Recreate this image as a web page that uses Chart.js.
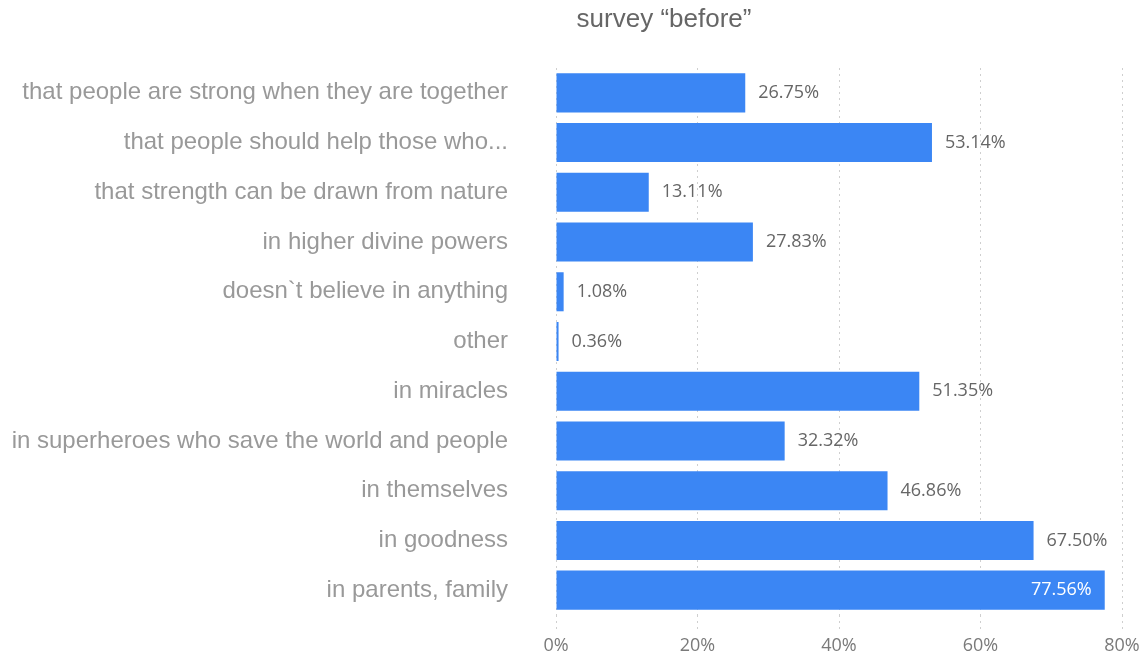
<!DOCTYPE html>
<html>
<head>
<meta charset="utf-8">
<script src="https://cdn.jsdelivr.net/npm/chart.js@4"></script>
<style>
  html, body { margin: 0; padding: 0; background: #fff; }
  #wrap { width: 1144px; height: 657px; position: relative; }
</style>
</head>
<body>
<div id="wrap"><canvas id="c"></canvas></div>
<script>
// Survey answers and the share of respondents for each
const categories = [
  'that people are strong when they are together',
  'that people should help those who...',
  'that strength can be drawn from nature',
  'in higher divine powers',
  'doesn`t believe in anything',
  'other',
  'in miracles',
  'in superheroes who save the world and people',
  'in themselves',
  'in goodness',
  'in parents, family'
];
const shares = [26.75, 53.14, 13.11, 27.83, 1.08, 0.36, 51.35, 32.32, 46.86, 67.50, 77.56];
const xTickValues = [0, 20, 40, 60, 80];
const titleText = 'survey \u201cbefore\u201d';

const BAR_BLUE = '#3b86f4';
const VALUE_FONT = '18px "Open Sans", "Noto Sans", sans-serif';

// Title drawn above the plot area, slightly right of the canvas centre
const titlePlugin = {
  id: 'surveyTitle',
  afterDraw(chart) {
    const ctx = chart.ctx;
    ctx.save();
    ctx.font = '26px "Liberation Sans", Arial, sans-serif';
    ctx.fillStyle = '#666666';
    ctx.textAlign = 'center';
    ctx.textBaseline = 'middle';
    ctx.fillText(titleText, chart.chartArea.left + 108, 20);
    ctx.restore();
  }
};

// Percentage labels next to (or inside) each bar
const valueLabels = {
  id: 'valueLabels',
  afterDatasetsDraw(chart) {
    const ctx = chart.ctx;
    const meta = chart.getDatasetMeta(0);
    const values = chart.data.datasets[0].data;
    ctx.save();
    ctx.font = VALUE_FONT;
    ctx.textBaseline = 'middle';
    meta.data.forEach((bar, i) => {
      const text = values[i].toFixed(2) + '%';
      const w = ctx.measureText(text).width;
      const gap = 13;
      if (bar.x + gap + w > chart.width - 4) {
        ctx.fillStyle = '#ffffff';
        ctx.textAlign = 'right';
        ctx.fillText(text, bar.x - gap, bar.y);
      } else {
        ctx.fillStyle = '#666666';
        ctx.textAlign = 'left';
        ctx.fillText(text, bar.x + gap, bar.y);
      }
    });
    ctx.restore();
  }
};

new Chart(document.getElementById('c'), {
  type: 'bar',
  data: {
    labels: categories,
    datasets: [{
      data: shares,
      backgroundColor: BAR_BLUE,
      borderWidth: 0,
      barPercentage: 0.785,
      categoryPercentage: 1
    }]
  },
  options: {
    indexAxis: 'y',
    responsive: true,
    maintainAspectRatio: false,
    animation: false,
    layout: { padding: { top: 68, right: 22, bottom: 0, left: 0 } },
    plugins: {
      legend: { display: false },
      tooltip: { enabled: false },
      title: { display: false }
    },
    scales: {
      x: {
        min: xTickValues[0],
        max: xTickValues[xTickValues.length - 1],
        afterBuildTicks(scale) {
          scale.ticks = xTickValues.map(v => ({ value: v }));
        },
        afterFit(scale) { scale.height = 42; },
        ticks: {
          callback: v => v + '%',
          color: '#7a7a7a',
          font: { family: '"Open Sans", "Noto Sans", sans-serif', size: 18 },
          padding: 3,
          maxRotation: 0
        },
        grid: {
          color: '#cfcfcf',
          lineWidth: 1,
          drawTicks: true,
          tickLength: 17,
          tickColor: '#cfcfcf',
          tickBorderDash: [2, 4]
        },
        border: { display: false, dash: [2, 4] }
      },
      y: {
        afterFit(scale) { scale.width = 556; },
        ticks: {
          color: '#999999',
          font: { family: '"Liberation Sans", Arial, sans-serif', size: 24 },
          padding: 0
        },
        grid: {
          display: true,
          drawOnChartArea: false,
          drawTicks: true,
          tickLength: 48,
          tickColor: 'rgba(0,0,0,0)'
        },
        border: { display: false }
      }
    }
  },
  plugins: [titlePlugin, valueLabels]
});
</script>
</body>
</html>
